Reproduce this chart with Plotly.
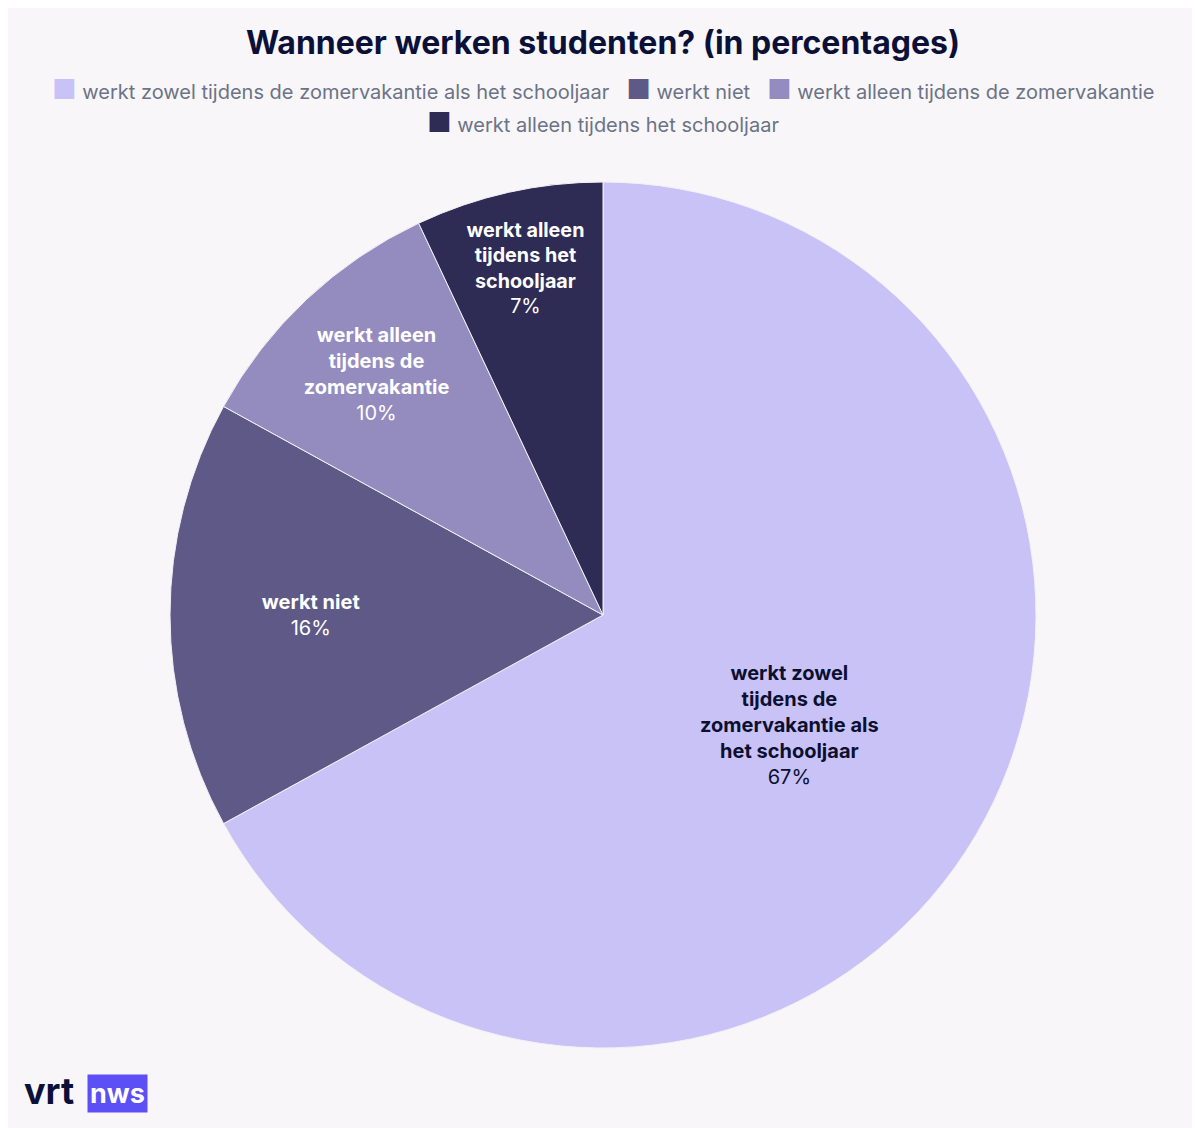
import plotly.graph_objects as go

# data
labels = [
    "werkt zowel tijdens de zomervakantie als het schooljaar",
    "werkt niet",
    "werkt alleen tijdens de zomervakantie",
    "werkt alleen tijdens het schooljaar",
]
wrapped = [
    "werkt zowel<br>tijdens de<br>zomervakantie als<br>het schooljaar",
    "werkt niet",
    "werkt alleen<br>tijdens de<br>zomervakantie",
    "werkt alleen<br>tijdens het<br>schooljaar",
]
values = [67, 16, 10, 7]
colors = ["#c9c2f7", "#5f5987", "#948bbf", "#2e2b55"]
text_colors = ["#0b1030", "#ffffff", "#ffffff", "#ffffff"]

W, H = 1200, 1128
# page is drawn with an 8px offset, so positions are shifted back
off = 8
cx, cy, r = 603 - off, 615 - off, 433


def px_y(y):
    return 1 - (y - off) / H


def px_x(x):
    return (x - off) / W


fig = go.Figure(go.Pie(
    labels=labels,
    values=values,
    customdata=wrapped,
    sort=False,
    direction="clockwise",
    rotation=0,
    marker=dict(colors=colors, line=dict(color="#f3f1f6", width=1)),
    texttemplate="<b>%{customdata}</b><br>%{value}%",
    textposition="inside",
    insidetextorientation="horizontal",
    insidetextfont=dict(color=text_colors, size=20, family="Inter"),
    hoverinfo="label+percent",
    showlegend=False,
    domain=dict(x=[(cx - r) / W, (cx + r) / W],
                y=[(H - cy - r) / H, (H - cy + r) / H]),
))


# legend rows built as text: coloured square + label
def legend_item(i):
    return (f"<span style='color:{colors[i]};font-size:27px'>■</span>"
            f" {labels[i]}")


rows = [[0, 1, 2], [3]]
row_y = [90, 122]
annotations = []
for row, y in zip(rows, row_y):
    annotations.append(dict(
        text="   ".join(legend_item(i) for i in row),
        x=px_x(603), y=px_y(y), xref="paper", yref="paper",
        xanchor="center", yanchor="middle", showarrow=False,
        font=dict(size=20, color="#6b7387", family="Inter"),
    ))

annotations += [
    dict(text="<b>vrt</b>", x=px_x(22), y=px_y(1091), xref="paper", yref="paper",
         xanchor="left", yanchor="middle", showarrow=False,
         font=dict(size=36, color="#0b1038", family="Inter")),
    dict(text="<b>nws</b>", x=px_x(87), y=px_y(1093), xref="paper", yref="paper",
         xanchor="left", yanchor="middle", showarrow=False,
         bgcolor="#5b4ff5", borderpad=2,
         font=dict(size=27, color="#ffffff", family="Inter")),
]

fig.update_layout(
    width=W, height=H,
    margin=dict(l=0, r=0, t=0, b=0),
    paper_bgcolor="#f8f6f8",
    font=dict(family="Inter", color="#6b7387"),
    title=dict(text="<b>Wanneer werken studenten? (in percentages)</b>",
               x=px_x(603), xanchor="center", y=px_y(43), yanchor="middle",
               font=dict(size=32, color="#0b1038", family="Inter")),
    showlegend=False,
    annotations=annotations,
)

fig.write_html("out.html")
